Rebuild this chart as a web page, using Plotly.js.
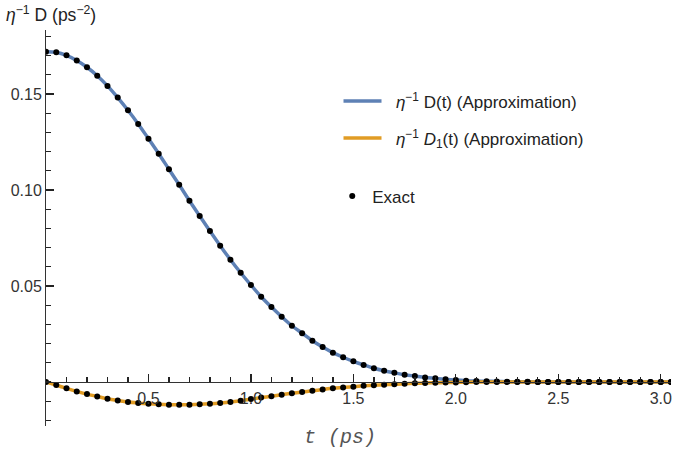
<!DOCTYPE html>
<html>
<head>
<meta charset="utf-8">
<script src="https://cdn.plot.ly/plotly-3.0.1.min.js"></script>
<style>html,body{margin:0;padding:0;background:#fff;}#chart{width:675px;height:457px;}</style>
</head>
<body>
<div id="chart"></div>
<script>
// time grid (ps)
const times = [0.00,0.05,0.10,0.15,0.20,0.25,0.30,0.35,0.40,0.45,0.50,0.55,0.60,0.65,0.70,0.75,0.80,0.85,0.90,0.95,
  1.00,1.05,1.10,1.15,1.20,1.25,1.30,1.35,1.40,1.45,1.50,1.55,1.60,1.65,1.70,1.75,1.80,1.85,1.90,1.95,
  2.00,2.05,2.10,2.15,2.20,2.25,2.30,2.35,2.40,2.45,2.50,2.55,2.60,2.65,2.70,2.75,2.80,2.85,2.90,2.95,3.00,3.05];
// eta^-1 D(t)
const dValues = [0.1720,0.1717,0.1701,0.1674,0.1639,0.1595,0.1542,0.1481,0.1415,0.1344,0.1267,0.1189,0.1108,0.1027,0.0944,0.0865,0.0786,0.0710,0.0637,0.0569,
  0.0505,0.0444,0.0390,0.0340,0.0293,0.0254,0.0215,0.0182,0.0153,0.0129,0.0108,0.0089,0.0072,0.0059,0.0048,0.0038,0.0031,0.0024,0.0019,0.0014,
  0.0010,0.0007,0.0005,0.0004,0.0003,0.0002,0.0001,0.0001,0,0,0,0,0,0,0,0,0,0,0,0,0,0];
// eta^-1 D1(t)
const d1Values = [0,-0.0016,-0.0033,-0.0049,-0.0063,-0.0075,-0.0087,-0.0096,-0.0104,-0.0109,-0.0113,-0.0116,-0.0118,-0.0119,-0.0118,-0.0116,-0.0113,-0.0109,-0.0104,-0.0097,
  -0.0089,-0.0081,-0.0074,-0.0066,-0.0059,-0.0052,-0.0046,-0.0039,-0.0033,-0.0028,-0.0024,-0.0020,-0.0017,-0.0014,-0.0011,-0.0009,-0.0007,-0.0005,-0.0004,-0.0003,
  -0.0002,-0.0001,0,0,0,0,0,0,0,0,0,0,0,0,0,0,0,0,0,0,0,0];
const xTickVals = [0.5,1.0,1.5,2.0,2.5,3.0];
const xTickText = ['0.5','1.0','1.5','2.0','2.5','3.0'];
const yTickVals = [0.05,0.10,0.15];
const yTickText = ['0.05','0.10','0.15'];

const blue = '#5E81B5', orange = '#E19C24';
const traces = [
  {x: times, y: dValues, type: 'scatter', mode: 'lines', line: {color: blue, width: 3.5, shape: 'spline'},
   name: '&nbsp;&nbsp;<i>η</i><sup>−1</sup> D(t) (Approximation)', legendgroup: 'a'},
  {x: times, y: d1Values, type: 'scatter', mode: 'lines', line: {color: orange, width: 3.5, shape: 'spline'},
   name: '&nbsp;&nbsp;<i>η</i><sup>−1</sup> <i>D</i><sub>1</sub>(t) (Approximation)', legendgroup: 'b'},
  {x: times, y: dValues, type: 'scatter', mode: 'markers', marker: {color: '#000', size: 6},
   name: 'Exact', legend: 'legend2'},
  {x: times, y: d1Values, type: 'scatter', mode: 'markers', marker: {color: '#000', size: 6},
   name: 'Exact', legend: 'legend2', showlegend: false}
];
const yMin = -0.0229, yMax = 0.1833;
const layout = {
  width: 675, height: 457,
  margin: {l: 46, r: 4, t: 30, b: 31},
  paper_bgcolor: '#fff', plot_bgcolor: '#fff',
  font: {family: 'Liberation Sans, Arial, sans-serif', color: '#333', size: 16},
  showlegend: true,
  xaxis: {range: [0, 3.05], anchor: 'free', position: (0 - yMin) / (yMax - yMin),
    showline: true, linecolor: '#333', linewidth: 1, showgrid: false, zeroline: false,
    tickmode: 'array', tickvals: xTickVals, ticktext: xTickText,
    ticks: 'inside', ticklen: 8, tickwidth: 1.3, tickcolor: '#222', ticklabelstandoff: 2,
    minor: {dtick: 0.1, tick0: 0, ticks: 'inside', ticklen: 5, tickwidth: 1.3, tickcolor: '#222', showgrid: false},
    tickfont: {size: 16, color: '#333'}},
  yaxis: {range: [yMin, yMax], showline: true, linecolor: '#333', linewidth: 1, showgrid: false, zeroline: false,
    tickmode: 'array', tickvals: yTickVals, ticktext: yTickText,
    ticks: 'inside', ticklen: 8, tickwidth: 1.3, tickcolor: '#222',
    minor: {dtick: 0.01, tick0: 0, ticks: 'inside', ticklen: 5, tickwidth: 1.3, tickcolor: '#222', showgrid: false},
    tickfont: {size: 16, color: '#333'}},
  legend: {x: 0.468, y: 0.865, xanchor: 'left', yanchor: 'top', bgcolor: 'rgba(0,0,0,0)',
    font: {size: 17, color: '#222'}, tracegroupgap: 12, itemwidth: 38, traceorder: 'grouped'},
  legend2: {x: 0.458, y: 0.625, xanchor: 'left', yanchor: 'top', bgcolor: 'rgba(0,0,0,0)',
    font: {size: 17, color: '#222'}, itemwidth: 30},
  annotations: [
    {text: '<i>η</i><sup>−1</sup> D (ps<sup>−2</sup>)', xref: 'paper', yref: 'paper', x: -0.068, y: 1.04,
     xanchor: 'left', yanchor: 'middle', showarrow: false, font: {size: 17.5, color: '#222'}},
    {text: '<i>t</i> <i>(ps)</i>', xref: 'paper', yref: 'paper', x: 0.47, y: -0.03,
     xanchor: 'center', yanchor: 'middle', showarrow: false,
     font: {family: 'Liberation Mono, DejaVu Sans Mono, monospace', size: 20, color: '#555'}}
  ]
};
Plotly.newPlot('chart', traces, layout, {displayModeBar: false, staticPlot: true});
</script>
</body>
</html>
